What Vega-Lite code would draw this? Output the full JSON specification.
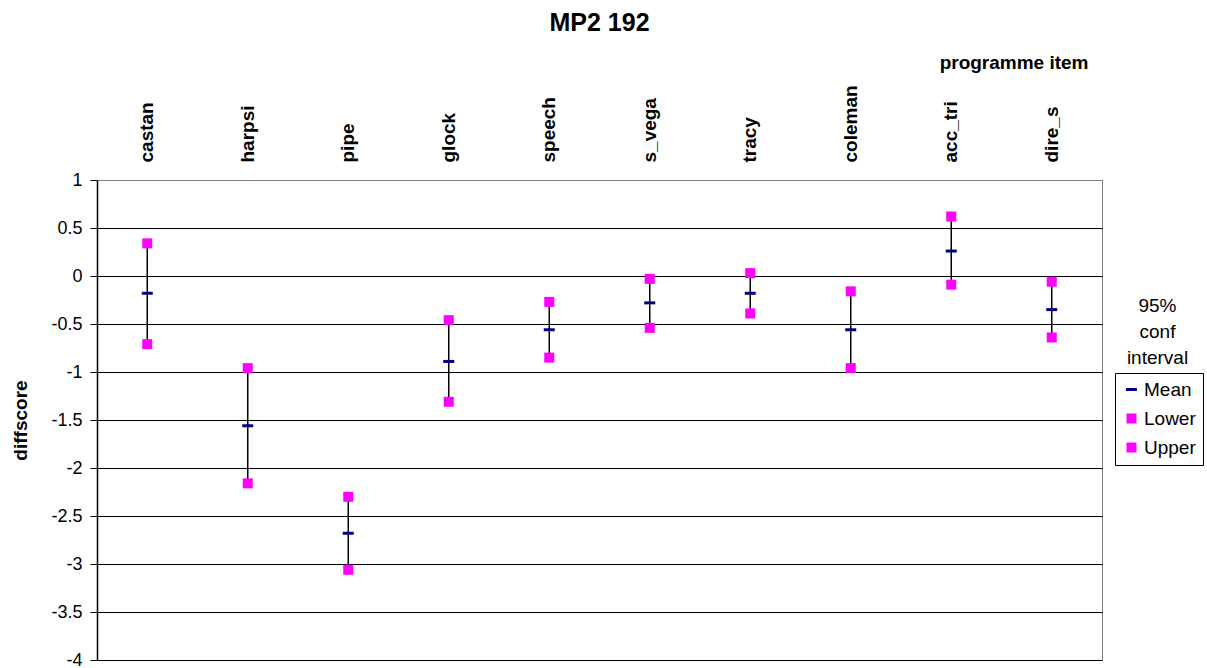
{
  "$schema": "https://vega.github.io/schema/vega-lite/v6.json",
  "width": 1005,
  "height": 480,
  "autosize": {"type": "none"},
  "padding": {"left": 97, "top": 180, "right": 105, "bottom": 8},
  "background": "white",
  "title": {"text": "MP2 192", "font": "Liberation Sans", "fontSize": 25, "fontWeight": "bold", "color": "black", "anchor": "middle", "offset": 17},
  "config": {
    "view": {"stroke": "#808080", "strokeWidth": 1},
    "font": "Liberation Sans",
    "legend": {"labelFont": "Liberation Sans"}
  },
  "datasets": {
    "ci": [
      {"item": "castan", "Mean": -0.18, "Lower": -0.71, "Upper": 0.34},
      {"item": "harpsi", "Mean": -1.56, "Lower": -2.16, "Upper": -0.96},
      {"item": "pipe", "Mean": -2.68, "Lower": -3.06, "Upper": -2.30},
      {"item": "glock", "Mean": -0.89, "Lower": -1.31, "Upper": -0.46},
      {"item": "speech", "Mean": -0.56, "Lower": -0.85, "Upper": -0.27},
      {"item": "s_vega", "Mean": -0.28, "Lower": -0.54, "Upper": -0.03},
      {"item": "tracy", "Mean": -0.18, "Lower": -0.39, "Upper": 0.03},
      {"item": "coleman", "Mean": -0.56, "Lower": -0.96, "Upper": -0.16},
      {"item": "acc_tri", "Mean": 0.26, "Lower": -0.09, "Upper": 0.62},
      {"item": "dire_s", "Mean": -0.35, "Lower": -0.64, "Upper": -0.06}
    ]
  },
  "data": {"name": "ci"},
  "resolve": {"axis": {"y": "independent"}},
  "layer": [
    {
      "mark": {"type": "rule", "color": "black", "strokeWidth": 1.5},
      "encoding": {
        "x": {
          "field": "item", "type": "nominal", "sort": null,
          "scale": {"paddingInner": 0, "paddingOuter": 0},
          "axis": {
            "orient": "top", "title": "programme item", "titleFont": "Liberation Sans", "titleFontSize": 19, "titleFontWeight": "bold", "titleColor": "black",
            "titleX": 991, "titleY": -118, "titleAlign": "right", "titleBaseline": "middle",
            "labelAngle": 270, "labelFont": "Liberation Sans", "labelFontSize": 19, "labelFontWeight": "bold", "labelColor": "black",
            "labelPadding": 18, "ticks": false, "tickSize": 0, "domain": false, "grid": false
          }
        },
        "y": {
          "field": "Lower", "type": "quantitative",
          "scale": {"domain": [-4, 1], "nice": false, "zero": false},
          "axis": {
            "orient": "left", "title": "diffscore", "titleFont": "Liberation Sans", "titleFontSize": 19, "titleFontWeight": "bold", "titleColor": "black",
            "titleX": -77, "titleY": 240, "titleAlign": "center", "titleBaseline": "middle", "titleAngle": 270,
            "values": [1, 0.5, 0, -0.5, -1, -1.5, -2, -2.5, -3, -3.5, -4],
            "labelExpr": "datum.value + ''",
            "labelFont": "Liberation Sans", "labelFontSize": 18, "labelColor": "black", "labelPadding": 8,
            "tickSize": 7, "tickColor": "black", "tickWidth": 1,
            "domainColor": "black", "domainWidth": 1.5,
            "grid": true, "gridColor": {"condition": {"test": "datum.value === 1", "value": "#808080"}, "value": "black"}, "gridWidth": 1, "gridOpacity": 1
          }
        },
        "y2": {"field": "Upper"}
      }
    },
    {
      "transform": [{"fold": ["Mean", "Lower", "Upper"], "as": ["series", "value"]}],
      "mark": {"type": "point", "filled": true, "opacity": 1, "size": 100, "strokeWidth": 0},
      "encoding": {
        "x": {"field": "item", "type": "nominal", "sort": null},
        "y": {
          "field": "value", "type": "quantitative",
          "axis": {
            "orient": "right", "title": ["95%", "conf", "interval"], "titleFont": "Liberation Sans", "titleFontSize": 19, "titleFontWeight": "normal", "titleColor": "black",
            "titleAngle": 0, "titleX": 55, "titleY": 116, "titleAlign": "center", "titleBaseline": "top", "titleLineHeight": 26,
            "labels": false, "ticks": false, "domain": false, "grid": false
          }
        },
        "color": {
          "field": "series", "type": "nominal",
          "scale": {"domain": ["Mean", "Lower", "Upper"], "range": ["#000080", "#FF00FF", "#FF00FF"]},
          "legend": {
            "title": null, "orient": "none", "legendX": 1018, "legendY": 193,
            "strokeColor": "black", "padding": 7, "rowPadding": 9,
            "labelFont": "Liberation Sans", "labelFontSize": 19, "labelColor": "black", "labelOffset": 3,
            "symbolSize": 100, "symbolStrokeWidth": 0
          }
        },
        "shape": {
          "field": "series", "type": "nominal",
          "scale": {"domain": ["Mean", "Lower", "Upper"], "range": ["M-1.1,-0.3L1.1,-0.3L1.1,0.3L-1.1,0.3Z", "square", "square"]},
          "legend": {
            "title": null, "orient": "none", "legendX": 1018, "legendY": 193,
            "strokeColor": "black", "padding": 7, "rowPadding": 9,
            "labelFont": "Liberation Sans", "labelFontSize": 19, "labelColor": "black", "labelOffset": 3,
            "symbolSize": 100, "symbolStrokeWidth": 0
          }
        }
      }
    }
  ]
}
